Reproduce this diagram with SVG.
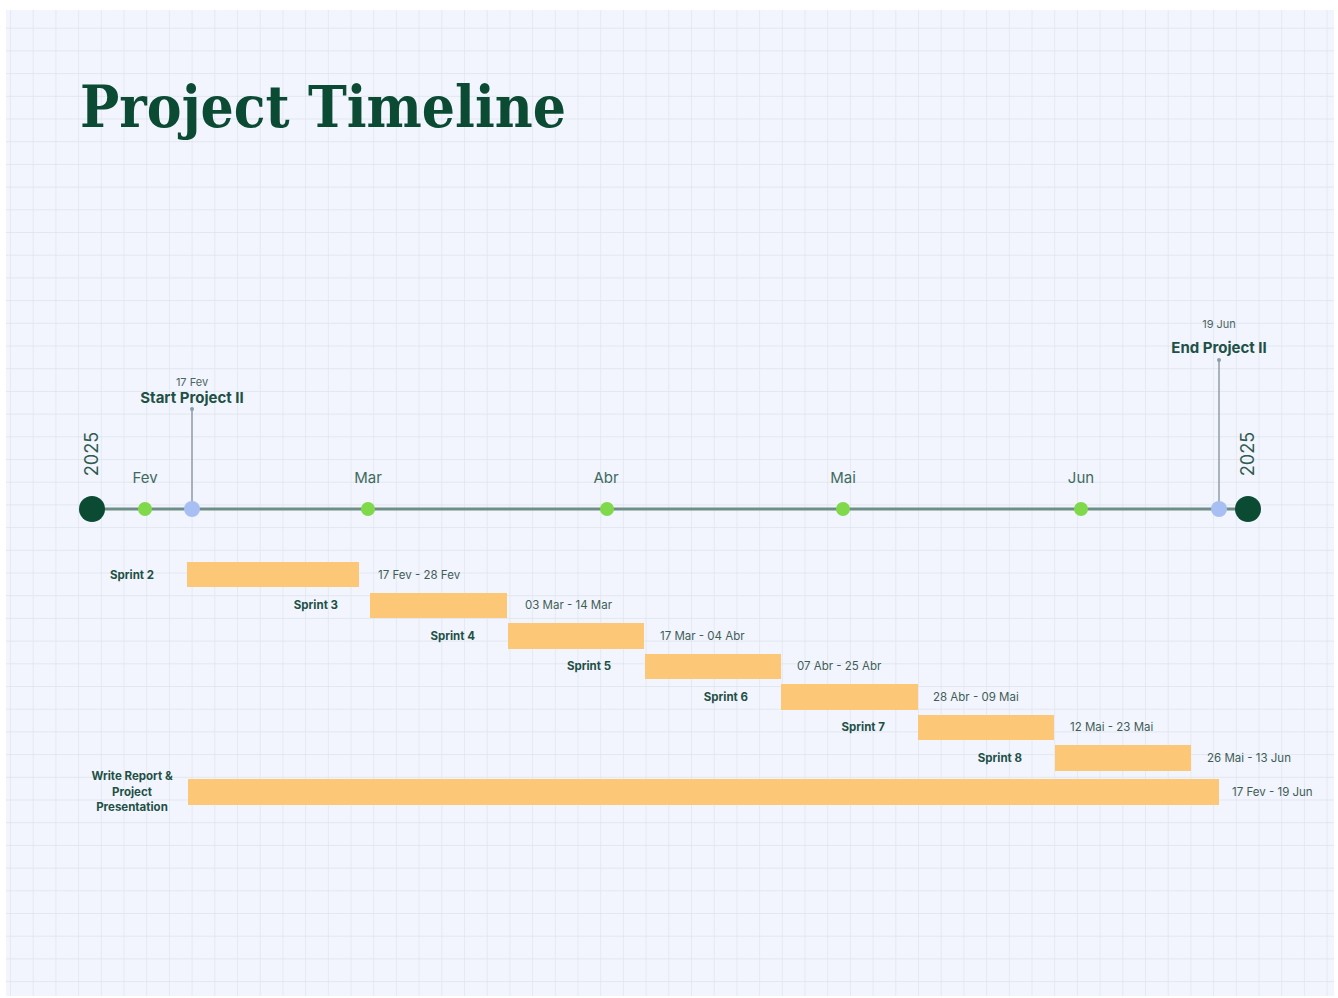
<svg xmlns="http://www.w3.org/2000/svg" width="1338" height="998" viewBox="0 0 1338 998">
<defs>
<pattern id="grid" x="10" y="5" width="22.7" height="22.7" patternUnits="userSpaceOnUse">
<path d="M0 0H22.7M0 0V22.7" fill="none" stroke="#dde2ec" stroke-width="1.3"/>
</pattern>
<style>
.mon{font-family:Inter,"Noto Sans",sans-serif;font-size:15px;fill:#3f6a5e;text-anchor:middle}
.yr{font-family:Inter,"Noto Sans",sans-serif;font-size:18px;fill:#2f5a4e;text-anchor:middle}
.lbl{font-family:Inter,"Noto Sans",sans-serif;font-size:11.5px;font-weight:bold;fill:#1f5046}
.dt{font-family:Inter,"Noto Sans",sans-serif;font-size:11.5px;fill:#3f5d57}
.ms{font-family:Inter,"Noto Sans",sans-serif;font-size:15px;font-weight:bold;fill:#1f5046;text-anchor:middle}
.msd{font-family:Inter,"Noto Sans",sans-serif;font-size:11px;fill:#4a6660;text-anchor:middle}
.bar{fill:#fdc778}
.gd{fill:#7fd94b}
.bd{fill:#a8bff4}
.big{fill:#0b4a33}
</style>
</defs>
<rect x="0" y="0" width="1338" height="998" fill="#ffffff"/>
<rect x="6" y="10" width="1328" height="986" fill="#f2f5fd"/>
<rect x="6" y="10" width="1328" height="986" fill="url(#grid)"/>
<text x="80" y="127" font-family="DejaVu Serif,serif" font-size="58" font-weight="bold" fill="#0b4a33" textLength="486" lengthAdjust="spacingAndGlyphs">Project Timeline</text>
<g id="connectors">
<line x1="92" y1="509" x2="1248" y2="509" stroke="#6f8e86" stroke-width="3"/>
<line x1="192" y1="409" x2="192" y2="509" stroke="#8f9da6" stroke-width="1.5"/>
<circle cx="192" cy="409" r="2" fill="#8f9da6"/>
<line x1="1219" y1="360" x2="1219" y2="509" stroke="#8f9da6" stroke-width="1.5"/>
<circle cx="1219" cy="360" r="2" fill="#8f9da6"/>
</g>
<g id="start2025"><circle class="big" cx="92" cy="509" r="13"/><text class="yr" transform="translate(98 454) rotate(-90)">2025</text></g>
<g id="end2025"><circle class="big" cx="1248" cy="509" r="13"/><text class="yr" transform="translate(1254 454) rotate(-90)">2025</text></g>
<g id="fev"><circle class="gd" cx="145" cy="509" r="7"/><text class="mon" x="145" y="483">Fev</text></g>
<g id="mar"><circle class="gd" cx="368" cy="509" r="7"/><text class="mon" x="368" y="483">Mar</text></g>
<g id="abr"><circle class="gd" cx="607" cy="509" r="7"/><text class="mon" x="606" y="483">Abr</text></g>
<g id="mai"><circle class="gd" cx="843" cy="509" r="7"/><text class="mon" x="843" y="483">Mai</text></g>
<g id="jun"><circle class="gd" cx="1081" cy="509" r="7"/><text class="mon" x="1081" y="483">Jun</text></g>
<g id="startProject"><circle class="bd" cx="192" cy="509" r="8"/><text class="msd" x="192" y="386">17 Fev</text><text class="ms" x="192" y="403">Start Project II</text></g>
<g id="endProject"><circle class="bd" cx="1219" cy="509" r="8"/><text class="msd" x="1219" y="328">19 Jun</text><text class="ms" x="1219" y="353">End Project II</text></g>
<g id="sprint2"><rect class="bar" x="187" y="562" width="172" height="25"/><text class="lbl" x="154" y="579" text-anchor="end">Sprint 2</text><text class="dt" x="378" y="579">17 Fev - 28 Fev</text></g>
<g id="sprint3"><rect class="bar" x="370" y="593" width="137" height="25"/><text class="lbl" x="338" y="609" text-anchor="end">Sprint 3</text><text class="dt" x="525" y="609">03 Mar - 14 Mar</text></g>
<g id="sprint4"><rect class="bar" x="508" y="623" width="136" height="26"/><text class="lbl" x="475" y="640" text-anchor="end">Sprint 4</text><text class="dt" x="660" y="640">17 Mar - 04 Abr</text></g>
<g id="sprint5"><rect class="bar" x="645" y="654" width="136" height="25"/><text class="lbl" x="611" y="670" text-anchor="end">Sprint 5</text><text class="dt" x="797" y="670">07 Abr - 25 Abr</text></g>
<g id="sprint6"><rect class="bar" x="781" y="684" width="137" height="26"/><text class="lbl" x="748" y="701" text-anchor="end">Sprint 6</text><text class="dt" x="933" y="701">28 Abr - 09 Mai</text></g>
<g id="sprint7"><rect class="bar" x="918" y="715" width="136" height="25"/><text class="lbl" x="885" y="731" text-anchor="end">Sprint 7</text><text class="dt" x="1070" y="731">12 Mai - 23 Mai</text></g>
<g id="sprint8"><rect class="bar" x="1055" y="745" width="136" height="26"/><text class="lbl" x="1022" y="762" text-anchor="end">Sprint 8</text><text class="dt" x="1207" y="762">26 Mai - 13 Jun</text></g>
<g id="report"><rect class="bar" x="188" y="779" width="1031" height="26"/><text class="lbl" text-anchor="middle"><tspan x="132" y="780">Write Report &amp;</tspan><tspan x="132" y="796">Project</tspan><tspan x="132" y="811">Presentation</tspan></text><text class="dt" x="1232" y="796">17 Fev - 19 Jun</text></g>
</svg>
